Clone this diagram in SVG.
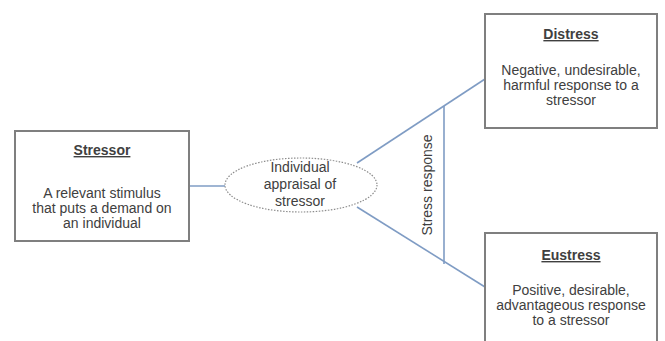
<svg xmlns="http://www.w3.org/2000/svg" width="665" height="341" viewBox="0 0 665 341">
<style>
.box{fill:#ffffff;stroke:#7f7f7f;stroke-width:2}
.t{font-family:"Liberation Sans",Arial,sans-serif;font-size:14px;fill:#404040;text-anchor:middle}
.h{font-weight:bold;text-decoration:underline}
.c{stroke:#7f9cc4;stroke-width:1.6;fill:none}
</style>
<rect width="665" height="341" fill="#ffffff"/>
<g id="connectors">
<line class="c" x1="189" y1="186" x2="225" y2="186"/>
<line class="c" x1="357" y1="163" x2="485" y2="79"/>
<line class="c" x1="357" y1="207" x2="485" y2="287"/>
<line class="c" x1="444" y1="106" x2="444" y2="264"/>
<text class="t" transform="translate(432,185) rotate(-90)">Stress response</text>
</g>
<g id="stressor">
<rect class="box" x="15" y="131" width="174" height="110"/>
<text class="t h" x="102" y="155">Stressor</text>
<text class="t" x="102" y="198">A relevant stimulus</text>
<text class="t" x="102" y="213">that puts a demand on</text>
<text class="t" x="102" y="228">an individual</text>
</g>
<g id="appraisal">
<ellipse cx="301" cy="185" rx="76" ry="27" fill="#ffffff" stroke="#8c8c8c" stroke-width="1.2" stroke-dasharray="1.5 1.5"/>
<text class="t" x="300" y="172">Individual</text>
<text class="t" x="300" y="189">appraisal of</text>
<text class="t" x="300" y="206">stressor</text>
</g>
<g id="distress">
<rect class="box" x="485" y="14" width="172" height="114"/>
<text class="t h" x="571" y="39">Distress</text>
<text class="t" x="571" y="75">Negative, undesirable,</text>
<text class="t" x="571" y="90">harmful response to a</text>
<text class="t" x="571" y="105">stressor</text>
</g>
<g id="eustress">
<rect class="box" x="485" y="233" width="172" height="115"/>
<text class="t h" x="571" y="260">Eustress</text>
<text class="t" x="571" y="295">Positive, desirable,</text>
<text class="t" x="571" y="310">advantageous response</text>
<text class="t" x="571" y="325">to a stressor</text>
</g>
</svg>
